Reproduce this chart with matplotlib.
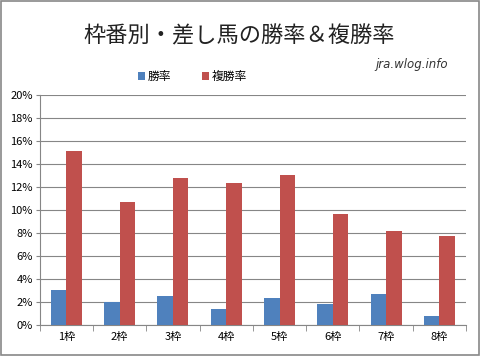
import numpy as np
import matplotlib
matplotlib.use("Agg")
import matplotlib.pyplot as plt
from matplotlib.patches import Rectangle
from matplotlib.ticker import FuncFormatter

plt.rcParams['font.family'] = ['Noto Sans CJK JP', 'DejaVu Sans']

# データ
categories = ["1枠", "2枠", "3枠", "4枠", "5枠", "6枠", "7枠", "8枠"]
win_rate = [3.0, 2.0, 2.5, 1.4, 2.35, 1.85, 2.65, 0.8]
place_rate = [15.1, 10.7, 12.8, 12.3, 13.0, 9.65, 8.2, 7.7]

blue = "#4F81BD"
red = "#C0504D"
grid_c = "#868686"

fig = plt.figure(figsize=(4.81, 3.57), dpi=100)
ax = fig.add_axes([0.0825, 0.0896, 0.8865, 0.6454])

x = np.arange(len(categories))
w = 0.29
ax.bar(x - w / 2, win_rate, w, color=blue, label="勝率", zorder=3)
ax.bar(x + w / 2, place_rate, w, color=red, label="複勝率", zorder=3)

ax.set_xlim(-0.5, len(categories) - 0.5)
ax.set_ylim(0, 20)
ax.set_yticks(np.arange(0, 21, 2))
ax.yaxis.set_major_formatter(FuncFormatter(lambda v, p: f"{int(v)}%"))
ax.yaxis.grid(True, color=grid_c, linewidth=0.8, zorder=0)
ax.set_xticks(x)
ax.set_xticklabels(categories)
ax.set_xticks(np.arange(-0.5, len(categories)), minor=True)
ax.tick_params(axis="x", which="major", length=0, labelsize=8, pad=5)
ax.tick_params(axis="x", which="minor", length=4, color=grid_c, direction="out")
ax.tick_params(axis="y", length=3, color=grid_c, labelsize=8, pad=2)
for s in ["top", "right"]:
    ax.spines[s].set_visible(False)
for s in ["left", "bottom"]:
    ax.spines[s].set_color(grid_c)
    ax.spines[s].set_linewidth(0.8)

fig.text(0.498, 0.9, "枠番別・差し馬の勝率＆複勝率", ha="center", va="center",
         fontsize=16, color="#222222")
fig.text(0.855, 0.818, "jra.wlog.info", ha="center", va="center",
         fontsize=8.5, style="italic", color="#333333", family="DejaVu Sans")

fig.legend(loc="center", bbox_to_anchor=(0.4, 0.785), ncol=2, frameon=False,
           fontsize=8.5, handlelength=0.6, handleheight=0.6, handletextpad=0.2,
           columnspacing=2.6)

fig.patches.append(Rectangle((0.002, 0.006), 0.994, 0.99, transform=fig.transFigure,
                             fill=False, edgecolor="#888888", linewidth=1.2))

fig.savefig("out.png", dpi=100)
